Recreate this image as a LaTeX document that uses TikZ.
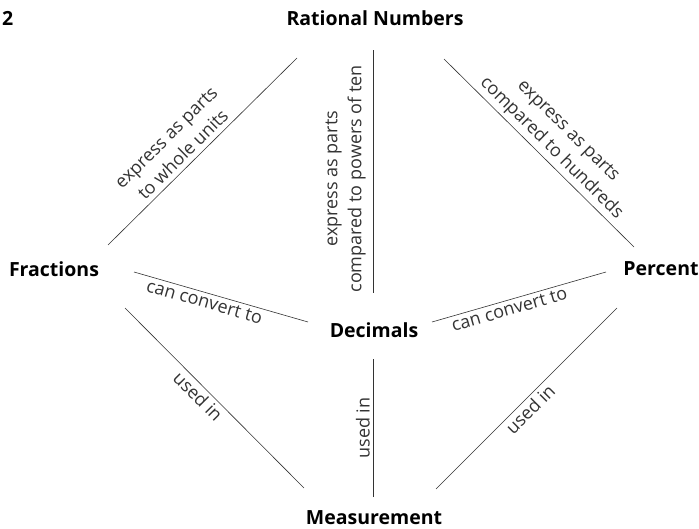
\documentclass[tikz,border=0pt]{standalone}
\usepackage{fontspec}
\setmainfont{Open Sans}
\usetikzlibrary{calc}

\begin{document}
\begin{tikzpicture}[
		x=1pt, y=-1pt,
		concept/.style={
			inner sep=0pt,
			font=\fontsize{19.5}{22}\selectfont\bfseries
		},
		lbl/.style={
			align=center,
			inner sep=3pt,
			font=\fontsize{18}{24}\selectfont
		},
		link/.style={line width=0.6pt, black!80}
		]
		
		\useasboundingbox (0,0) rectangle (699,529);
		
		\node[concept, anchor=west] (num) at (2,18) {2};
		\node[concept] (rat) at (375,18) {Rational Numbers};
		\node[concept] (frac) at (54,269) {Fractions};
		\node[concept] (dec) at (374,330) {Decimals};
		\node[concept] (perc) at (661,269) {Percent};
		\node[concept] (meas) at (374,518) {Measurement};
		
		\draw[link] ($(frac)+(54,-24)$) -- node[lbl, above=2pt, sloped, pos=0.44] {express as parts\\to whole units} ($(rat)+(-78,40)$);
		\draw[link] ($(dec)+(-1,-37)$) -- node[lbl, above=4pt, sloped, pos=0.47] {express as parts\\compared to powers of ten} ($(rat)+(-2,32)$);
		\draw[link] ($(rat)+(69,41)$) -- node[lbl, above, sloped, pos=0.52] {express as parts\\compared to hundreds} ($(perc)+(-27,-22)$);
		
		\draw[link] ($(frac)+(80,3)$) -- node[lbl, below, sloped, pos=0.42] {can convert to} ($(dec)+(-66,-8)$);
		\draw[link] ($(dec)+(58,-8)$) -- node[lbl, below, sloped, pos=0.43] {can convert to} ($(perc)+(-55,3)$);
		
		\draw[link] ($(frac)+(71,39)$) -- node[lbl, below, sloped, pos=0.45] {used in} ($(meas)+(-70,-30)$);
		\draw[link] ($(meas)+(-1,-21)$) -- node[lbl, above, sloped, pos=0.5] {used in} ($(dec)+(-1,29)$);
		\draw[link] ($(meas)+(62,-29)$) -- node[lbl, below, sloped, pos=0.48] {used in} ($(perc)+(-44,39)$);
		
	\end{tikzpicture}
\end{document}
